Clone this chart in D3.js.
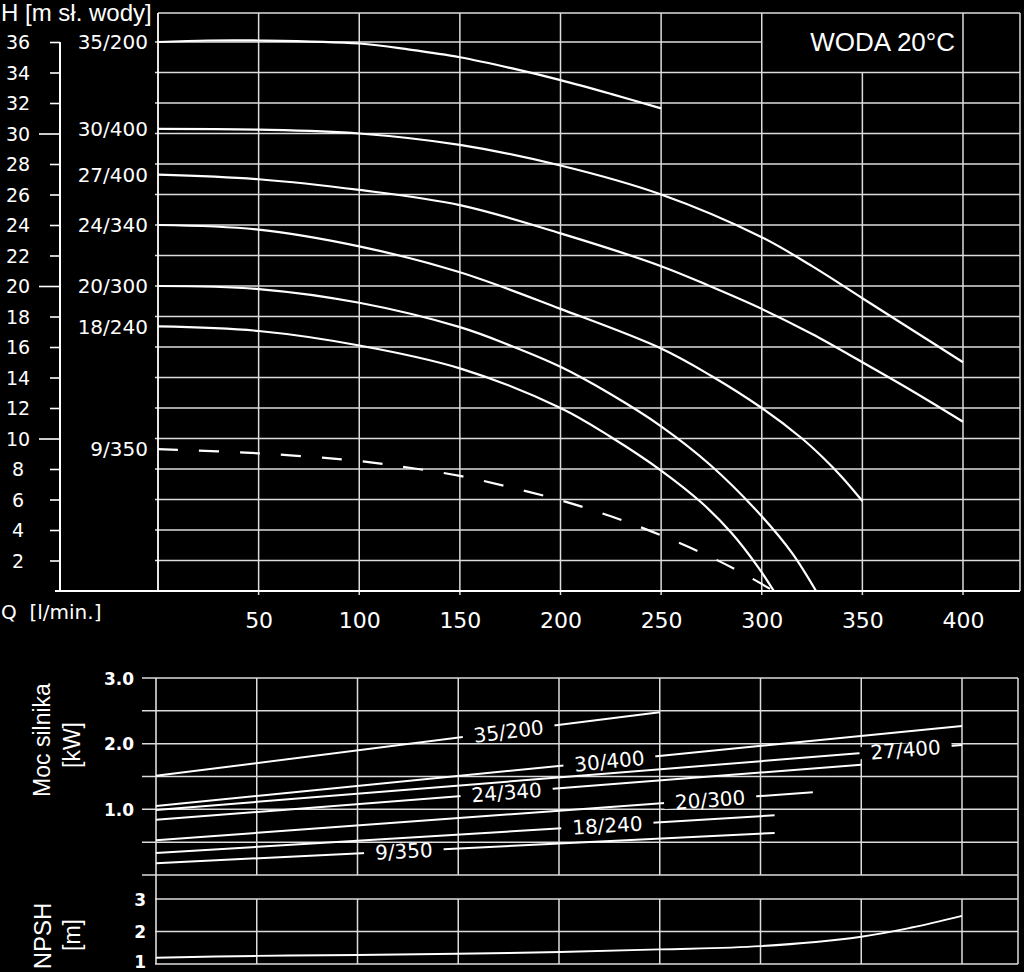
<!DOCTYPE html>
<html><head><meta charset="utf-8">
<script src="https://cdn.jsdelivr.net/npm/d3@7"></script>
<style>
html,body{margin:0;padding:0;background:#000;}
svg{display:block;}
</style></head><body>
<svg id="chart" width="1024" height="972"></svg>
<script>
// ================= DATA =================
const seriesNames = ["35/200","30/400","27/400","24/340","20/300","18/240","9/350"];

// H(Q) curves, Q [l/min], H [m]
const q35_200 = [0,25,50,100,125,150,175,200,225,250];
const h35_200 = [36.0,36.1,36.1,35.9,35.5,35.0,34.3,33.5,32.6,31.65];
const q30_400 = [0,50,100,150,200,250,300,325,350,375,400];
const h30_400 = [30.3,30.25,30.0,29.25,27.9,26.0,23.2,21.3,19.2,17.1,15.0];
const q27_400 = [0,50,100,150,200,250,275,300,325,350,375,400];
const h27_400 = [27.3,27.0,26.3,25.3,23.45,21.3,19.95,18.5,16.85,15.0,13.1,11.1];
const q24_340 = [0,50,100,150,200,250,275,300,320,330,340,350];
const h24_340 = [24.0,23.7,22.6,20.9,18.5,15.9,14.1,12.0,10.0,8.8,7.45,5.9];
const q20_300 = [0,50,100,150,175,200,225,250,275,300,315,327];
const h20_300 = [20.0,19.8,18.9,17.3,16.1,14.7,12.9,10.8,8.2,4.9,2.5,0];
const q18_240 = [0,50,100,150,200,225,250,270,285,298,306];
const h18_240 = [17.35,17.05,16.1,14.6,12.0,10.1,7.9,5.8,3.8,1.6,0];
const q9_350  = [0,50,100,125,150,175,200,225,250,275,290,306];
const h9_350  = [9.3,9.03,8.52,8.08,7.55,6.8,5.95,4.9,3.65,2.2,1.2,0];

// Motor power P(Q) [kW]
const pq35_200 = [0,250];  const pp35_200 = [1.51,2.48];
const pq30_400 = [0,400];  const pp30_400 = [1.05,2.27];
const pq27_400 = [0,400];  const pp27_400 = [0.99,1.98];
const pq24_340 = [0,350];  const pp24_340 = [0.84,1.68];
const pq20_300 = [0,326];  const pp20_300 = [0.53,1.26];
const pq18_240 = [0,307];  const pp18_240 = [0.335,0.91];
const pq9_350  = [0,307];  const pp9_350  = [0.18,0.64];

// NPSH(Q) [m]
const npshQ = [0,50,100,175,250,300,350,375,400];
const npshV = [1.19,1.25,1.28,1.34,1.45,1.55,1.84,2.12,2.48];

// Tick labels
const hTicks = [2,4,6,8,10,12,14,16,18,20,22,24,26,28,30,32,34,36];
const qTicks = [50,100,150,200,250,300,350,400];
const qGrid  = [0,50,100,150,200,250,300,350,400];
const pTicks = [1.0,2.0,3.0];
const pGrid  = [0,0.5,1.0,1.5,2.0,2.5,3.0];
const nTicks = [1,2,3];

const headCurves = [
  {name:"35/200", q:q35_200, h:h35_200, dashed:false},
  {name:"30/400", q:q30_400, h:h30_400, dashed:false},
  {name:"27/400", q:q27_400, h:h27_400, dashed:false},
  {name:"24/340", q:q24_340, h:h24_340, dashed:false},
  {name:"20/300", q:q20_300, h:h20_300, dashed:false},
  {name:"18/240", q:q18_240, h:h18_240, dashed:false},
  {name:"9/350",  q:q9_350,  h:h9_350,  dashed:true}
];
const powerLines = [
  {name:"35/200", q:pq35_200, p:pp35_200},
  {name:"30/400", q:pq30_400, p:pp30_400},
  {name:"27/400", q:pq27_400, p:pp27_400},
  {name:"24/340", q:pq24_340, p:pp24_340},
  {name:"20/300", q:pq20_300, p:pp20_300},
  {name:"18/240", q:pq18_240, p:pp18_240},
  {name:"9/350",  q:pq9_350,  p:pp9_350}
];

// ================= LAYOUT =================
const DIN = "'DejaVu Sans', sans-serif";
const ARIAL = "'Liberation Sans', Arial, sans-serif";
const GRID = "#dcdcdc";
const svg = d3.select("#chart");
svg.append("rect").attr("width",1024).attr("height",972).attr("fill","#000");

// ---- top chart ----
const xTop = d3.scaleLinear().domain([0,400]).range([158,963]);
const yH = d3.scaleLinear().domain([0,36]).range([591,42]);
const topY = 13, rightX = 1020;

const gTop = svg.append("g");
gTop.selectAll("line.hg").data(hTicks).join("line")
  .attr("x1",155).attr("x2",d => d===36 ? xTop(300) : rightX)
  .attr("y1",d=>yH(d)).attr("y2",d=>yH(d))
  .attr("stroke",GRID).attr("stroke-width",1.5);
gTop.selectAll("line.vg").data(qTicks).join("line")
  .attr("x1",d=>xTop(d)).attr("x2",d=>xTop(d))
  .attr("y1",d => d===350 ? yH(34) : topY).attr("y2",595)
  .attr("stroke",GRID).attr("stroke-width",1.5);
gTop.append("line").attr("x1",xTop(0)).attr("x2",rightX).attr("y1",topY).attr("y2",topY).attr("stroke",GRID).attr("stroke-width",1.5);
gTop.append("line").attr("x1",xTop(0)).attr("x2",xTop(0)).attr("y1",topY).attr("y2",yH(0)).attr("stroke","#fff").attr("stroke-width",1.8);
gTop.append("line").attr("x1",rightX).attr("x2",rightX).attr("y1",topY).attr("y2",yH(0)).attr("stroke",GRID).attr("stroke-width",1.5);
gTop.append("line").attr("x1",55).attr("x2",rightX).attr("y1",yH(0)).attr("y2",yH(0)).attr("stroke","#fff").attr("stroke-width",2);
gTop.append("line").attr("x1",60).attr("x2",60).attr("y1",yH(36)).attr("y2",yH(0)).attr("stroke","#fff").attr("stroke-width",2);
const hAxis = d3.axisLeft(yH).tickValues(hTicks).tickSize(10).tickPadding(0);
const gHA = gTop.append("g").attr("transform","translate(60,0)").call(hAxis);
gHA.select(".domain").remove();
gHA.selectAll(".tick line").attr("stroke","#fff").attr("stroke-width",1.6)
  .attr("x2",d => d%10===0 ? -21 : -10);
gHA.selectAll(".tick text").attr("fill","#fff").attr("x",-42).attr("text-anchor","middle")
  .attr("dy","0.36em").style("font-family",DIN).style("font-size","19px");

const qAxis = d3.axisBottom(xTop).tickValues(qTicks).tickSize(0).tickPadding(0).tickFormat(d3.format("d"));
const gQA = gTop.append("g").attr("transform",`translate(0,${yH(0)})`).call(qAxis);
gQA.select(".domain").remove();
gQA.selectAll(".tick text").attr("fill","#fff").attr("y",29).attr("dy","0.36em")
  .style("font-family",DIN).style("font-size","22px");

const lineH = d3.line().x(d=>xTop(d[0])).y(d=>yH(d[1])).curve(d3.curveCatmullRom.alpha(0.5));
headCurves.forEach(c => {
  const pts = c.q.map((q,i)=>[q,c.h[i]]);
  gTop.append("path").attr("d",lineH(pts)).attr("fill","none")
    .attr("stroke","#fff").attr("stroke-width",2.2)
    .attr("stroke-dasharray", c.dashed ? "20,21" : null);
  gTop.append("text").attr("x",148).attr("y",yH(c.h[0])).attr("dy","0.36em")
    .attr("text-anchor","end").attr("fill","#fff")
    .style("font-family",DIN).style("font-size","20px").text(c.name);
});

svg.append("text").attr("x",1).attr("y",21).attr("fill","#fff")
  .style("font-family",ARIAL).style("font-size","24px").text("H [m sł. wody]");
svg.append("text").attr("x",1).attr("y",612).attr("dy","0.36em").attr("fill","#fff")
  .style("font-family",DIN).style("font-size","20px").attr("xml:space","preserve").text("Q  [l/min.]");
svg.append("text").attr("x",955).attr("y",51).attr("text-anchor","end").attr("fill","#fff")
  .style("font-family",ARIAL).style("font-size","26px").text("WODA 20°C");

// ---- power chart ----
const xBot = d3.scaleLinear().domain([0,400]).range([156,962]);
const yP = d3.scaleLinear().domain([0,3]).range([875,678]);
const yN = d3.scaleLinear().domain([1,3]).range([964,899]);
const botRight = 1018;
const gBot = svg.append("g");
gBot.selectAll("line.pg").data(pGrid).join("line")
  .attr("x1",142).attr("x2",botRight).attr("y1",d=>yP(d)).attr("y2",d=>yP(d))
  .attr("stroke",GRID).attr("stroke-width",1.5);
gBot.selectAll("line.pv").data(qGrid.slice(1)).join("line")
  .attr("x1",d=>xBot(d)).attr("x2",d=>xBot(d)).attr("y1",yP(3)).attr("y2",yP(0))
  .attr("stroke",GRID).attr("stroke-width",1.5);
gBot.selectAll("line.ng").data(nTicks).join("line")
  .attr("x1",155).attr("x2",botRight).attr("y1",d=>yN(d)).attr("y2",d=>yN(d))
  .attr("stroke",GRID).attr("stroke-width",1.5);
gBot.selectAll("line.nv").data(qGrid.slice(1)).join("line")
  .attr("x1",d=>xBot(d)).attr("x2",d=>xBot(d)).attr("y1",yN(3)).attr("y2",yN(1))
  .attr("stroke",GRID).attr("stroke-width",1.5);
gBot.append("line").attr("x1",xBot(0)).attr("x2",xBot(0)).attr("y1",yP(3)).attr("y2",yN(1)).attr("stroke",GRID).attr("stroke-width",1.6);
gBot.append("line").attr("x1",botRight).attr("x2",botRight).attr("y1",yP(3)).attr("y2",yN(1)).attr("stroke",GRID).attr("stroke-width",1.5);

const pAxis = d3.axisLeft(yP).tickValues(pTicks).tickSize(0).tickPadding(0).tickFormat(d3.format(".1f"));
const gPA = gBot.append("g").attr("transform","translate(134,0)").call(pAxis);
gPA.select(".domain").remove();
gPA.selectAll(".tick text").attr("fill","#fff").attr("dy","0.36em")
  .style("font-family",DIN).style("font-size","17px").style("font-weight","bold");
const nAxis = d3.axisLeft(yN).tickValues(nTicks).tickSize(0).tickPadding(0).tickFormat(d3.format("d"));
const gNA = gBot.append("g").attr("transform","translate(146,0)").call(nAxis);
gNA.select(".domain").remove();
gNA.selectAll(".tick text").attr("fill","#fff").attr("dy",d => d===1 ? "0.2em" : "0.36em")
  .style("font-family",DIN).style("font-size","17px").style("font-weight","bold");

const lineP = d3.line().x(d=>xBot(d[0])).y(d=>yP(d[1]));
powerLines.forEach(s => {
  gBot.append("path").attr("d",lineP(s.q.map((q,i)=>[q,s.p[i]]))).attr("fill","none")
    .attr("stroke","#fff").attr("stroke-width",2);
});
const labelAtQ = {"35/200":175,"30/400":225,"27/400":372,"24/340":174,"20/300":275,"18/240":224,"9/350":123};
powerLines.forEach(s => {
  const q = labelAtQ[s.name];
  const interp = d3.scaleLinear().domain(s.q).range(s.p);
  const cx = xBot(q), cy = yP(interp(q));
  const ang = Math.atan2(yP(s.p[1])-yP(s.p[0]), xBot(s.q[1])-xBot(s.q[0]))*180/Math.PI;
  const g = gBot.append("g").attr("transform",`translate(${cx},${cy}) rotate(${ang})`);
  const rect = g.append("rect").attr("fill","#000");
  const t = g.append("text").attr("text-anchor","middle").attr("dy","0.36em").attr("fill","#fff")
    .style("font-family",DIN).style("font-size","20px").text(s.name);
  const w = t.node().getComputedTextLength() + 22;
  rect.attr("x",-w/2).attr("y",-6).attr("width",w).attr("height",12);
});

const lineN = d3.line().x(d=>xBot(d[0])).y(d=>yN(d[1])).curve(d3.curveCatmullRom.alpha(0.5));
gBot.append("path").attr("d",lineN(npshQ.map((q,i)=>[q,npshV[i]]))).attr("fill","none")
  .attr("stroke","#fff").attr("stroke-width",2);

function vtext(x,y,txt,size){
  svg.append("text").attr("transform",`translate(${x},${y}) rotate(-90)`)
    .attr("text-anchor","middle").attr("dy","0.36em").attr("fill","#fff")
    .style("font-family",ARIAL).style("font-size",size+"px").text(txt);
}
vtext(42,740,"Moc silnika",23);
vtext(72,745,"[kW]",23);
vtext(42,936,"NPSH",24);
vtext(72,935,"[m]",23);
</script>
</body></html>
